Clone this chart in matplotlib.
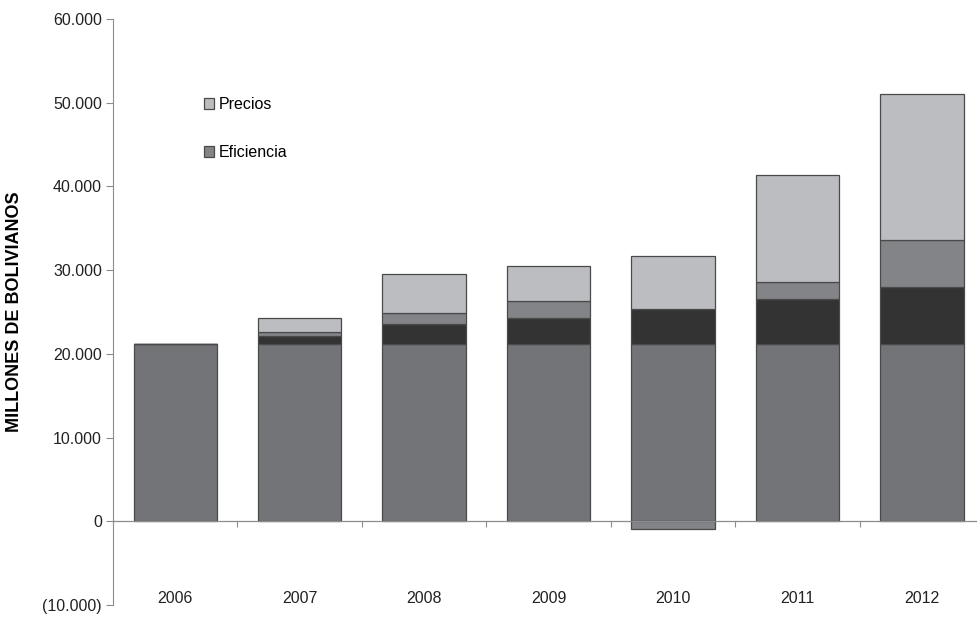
import numpy as np
import matplotlib
matplotlib.use("Agg")
import matplotlib.pyplot as plt
from matplotlib.ticker import FuncFormatter, FixedLocator
import matplotlib.transforms as mtransforms

plt.rcParams['font.family'] = ['Liberation Sans', 'DejaVu Sans']

years = ['2006', '2007', '2008', '2009', '2010', '2011', '2012']
# millones de bolivianos
base = [21150, 21150, 21150, 21150, 21150, 21150, 21150]
volumen = [0, 1040, 2390, 3190, 4180, 5460, 6850]
eficiencia = [0, 395, 1350, 1985, -950, 1985, 5580]
precios = [0, 1670, 4625, 4150, 6370, 12720, 17450]

c_base = '#737478'
c_vol = '#333333'
c_efi = '#838488'
c_pre = '#bcbdc1'
edge = '#4a4a4a'
axis_col = '#8c8c8c'


def fmt_miles(v, pos):
    if v == 0:
        return '0'
    s = f"{abs(int(v)):,}".replace(',', '.')
    return f"({s})" if v < 0 else s


fig = plt.figure(figsize=(9.77, 6.32), dpi=100)
ax = fig.add_axes([0.1157, 0.0427, 0.8915, 0.9273])

x = np.arange(len(years))
w = 0.67
pos_bottom = np.zeros(len(years))
neg_bottom = np.zeros(len(years))
handles = {}
for vals, col, name in [(base, c_base, 'Base'), (volumen, c_vol, 'Volumen'),
                        (eficiencia, c_efi, 'Eficiencia'), (precios, c_pre, 'Precios')]:
    vals = np.array(vals, dtype=float)
    bottoms = np.where(vals >= 0, pos_bottom, neg_bottom)
    bars = ax.bar(x, vals, w, bottom=bottoms, color=col, edgecolor=edge,
                  linewidth=0.9, zorder=2)
    handles[name] = bars
    pos_bottom += np.where(vals > 0, vals, 0)
    neg_bottom += np.where(vals < 0, vals, 0)

ax.set_xlim(-0.5, len(years) - 0.5)
ax.set_ylim(-10000, 60000)
ax.yaxis.set_major_locator(FixedLocator(np.arange(-10000, 60001, 10000)))
ax.yaxis.set_major_formatter(FuncFormatter(fmt_miles))
ax.tick_params(axis='y', direction='out', length=5, width=0.8, color=axis_col,
               labelsize=11.5, labelcolor='#222222', pad=3)

# category axis drawn at zero, year labels at the bottom
for s in ['top', 'right']:
    ax.spines[s].set_visible(False)
ax.spines['left'].set_color(axis_col)
ax.spines['left'].set_linewidth(0.8)
ax.spines['bottom'].set_position(('data', 0))
ax.spines['bottom'].set_color(axis_col)
ax.spines['bottom'].set_linewidth(0.9)
ax.spines['bottom'].set_zorder(3)
ax.set_xticks(x[:-1] + 0.5)
ax.set_xticklabels([])
ax.tick_params(axis='x', direction='out', length=4, width=0.8, color=axis_col)
trans = mtransforms.blended_transform_factory(ax.transData, ax.transAxes)
for xi, yr in zip(x, years):
    ax.text(xi, 0.011, yr, transform=trans, ha='center', va='center',
            fontsize=11.5, color='#222222')

ax.set_ylabel('MILLONES DE BOLIVIANOS', fontsize=13, fontweight='bold',
              labelpad=14)

leg = ax.legend([handles['Precios'], handles['Eficiencia']], ['Precios', 'Eficiencia'],
                loc='upper left', bbox_to_anchor=(0.097, 0.877), frameon=False,
                fontsize=11.5, handlelength=0.65, handleheight=0.65,
                handletextpad=0.25, labelspacing=2.05, borderaxespad=0)

fig.savefig('out.png', dpi=100)
